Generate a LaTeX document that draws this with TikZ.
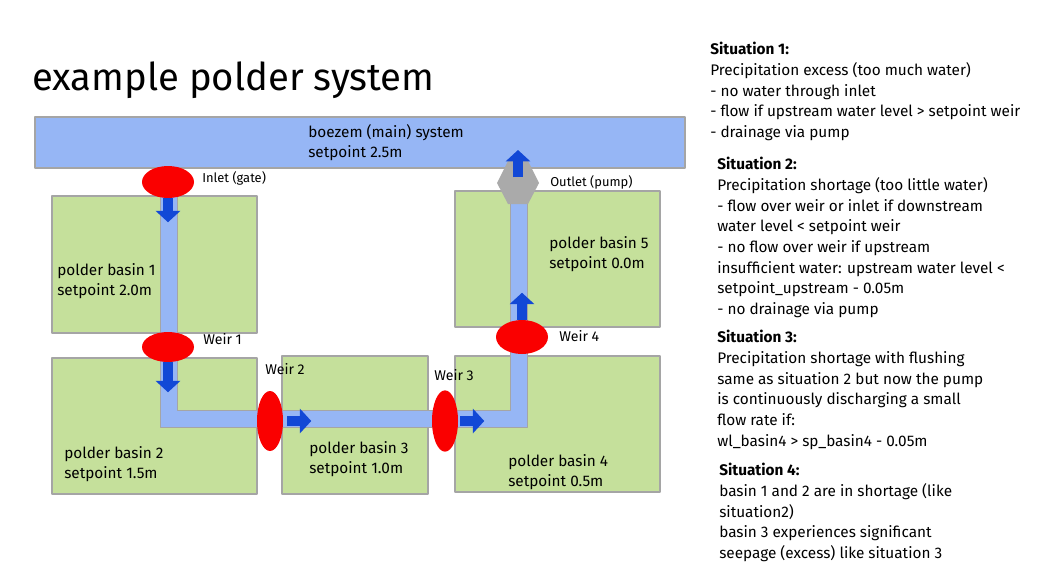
\documentclass[tikz,border=0pt]{standalone}
\usepackage{fontspec}
\setmainfont{Fira Sans}
\usepackage{tikz}
\usetikzlibrary{arrows.meta, positioning, shapes, calc, shapes.geometric}
\definecolor{boezemblue}{RGB}{150, 182, 245}
\definecolor{basingreen}{RGB}{197, 224, 155}
\definecolor{weirred}{RGB}{250, 0, 0}
\definecolor{flowblue}{RGB}{18, 72, 214}
\definecolor{pumpgray}{RGB}{170, 170, 170}
\definecolor{edgegray}{RGB}{165, 165, 165}
\tikzset{every node/.style={font=\fontsize{11.5}{15.5}\selectfont, inner sep=0pt}, every path/.style={line join=round}}
\tikzset{
    basin/.style={draw=edgegray, fill=basingreen, line width=0.8pt},
    weir/.style={ellipse, fill=weirred},
    flow/.style={flowblue, line width=7.5pt, -{Triangle[length=8.5pt, width=18pt]}},
    txt/.style={anchor=north west, align=left},
    lbl/.style={anchor=north west, font=\fontsize{9.7}{12}\selectfont}
}

\begin{document}
\begin{tikzpicture}[x=0.75pt, y=-0.75pt]
    \useasboundingbox (0,0) rectangle (1037,582);

    % title
    \node [anchor=north west, font=\fontsize{28.7}{30}\selectfont] (title) at (32,62) {example polder system};

    % boezem
    \node [basin, fill=boezemblue, minimum width=487.5pt, minimum height=38.25pt] (boezem) at (360,142.5) {};
    \node [txt] (boezemtext) at (308,124) {boezem (main) system\\setpoint 2.5m};

    % polder basins
    \node [basin, minimum width=153.75pt, minimum height=102.75pt] (basin1) at (154.5,264.5) {};
    \node [basin, minimum width=153.75pt, minimum height=102pt] (basin2) at (154.5,426) {};
    \node [basin, minimum width=109.5pt, minimum height=103.5pt] (basin3) at (355,425) {};
    \node [basin, minimum width=153.75pt, minimum height=102pt] (basin4) at (557.5,424) {};
    \node [basin, minimum width=153.75pt, minimum height=102pt] (basin5) at (557.5,259) {};

    % channels
    \draw [draw=edgegray, fill=boezemblue, line width=0.6pt]
        (160,196) -- (177,196) -- (177,410) -- (510,410) -- (510,191) -- (527,191)
        -- (527,427) -- (160,427) -- cycle;

    % structures
    \node [weir, minimum width=39pt, minimum height=24pt] (inlet) at (168,182) {};
    \node [weir, minimum width=39pt, minimum height=22.5pt] (weir1) at (168,347) {};
    \node [weir, minimum width=19.5pt, minimum height=45pt] (weir2) at (270,421) {};
    \node [weir, minimum width=19.5pt, minimum height=46pt] (weir3) at (445,421) {};
    \node [weir, minimum width=39pt, minimum height=25.5pt] (weir4) at (522,337) {};
    \coordinate (pump) at (518,183);
    \fill [pumpgray] ($(pump)+(-21,0)$) -- ($(pump)+(-10,-22)$) -- ($(pump)+(10,-22)$)
        -- ($(pump)+(21,0)$) -- ($(pump)+(10,21)$) -- ($(pump)+(-10,21)$) -- cycle;

    % flow direction
    \draw [flow] (inlet.south) -- ++(0,24);
    \draw [flow] (weir1.south) -- ++(0,30);
    \draw [flow] ($(weir2.east)+(4,0)$) -- ++(24,0);
    \draw [flow] ($(weir3.east)+(2,0)$) -- ++(24,0);
    \draw [flow] (weir4.north) -- ++(0,-27);
    \draw [flow] ($(pump)+(0,-6)$) -- ++(0,-27);

    % labels
    \node [lbl] (inletlbl) at (202,171) {Inlet (gate)};
    \node [lbl] (outletlbl) at (550,175) {Outlet (pump)};
    \node [lbl, font=\fontsize{10.6}{12}\selectfont] (weir1lbl) at (203,333) {Weir 1};
    \node [lbl, font=\fontsize{10.6}{12}\selectfont] (weir2lbl) at (265,363) {Weir 2};
    \node [lbl, font=\fontsize{10.6}{12}\selectfont] (weir3lbl) at (434,369) {Weir 3};
    \node [lbl, font=\fontsize{10.6}{12}\selectfont] (weir4lbl) at (559,330) {Weir 4};

    \node [txt] (basin1text) at (57,263) {polder basin 1\\setpoint 2.0m};
    \node [txt] (basin2text) at (64,446) {polder basin 2\\setpoint 1.5m};
    \node [txt] (basin3text) at (309,441) {polder basin 3\\setpoint 1.0m};
    \node [txt] (basin4text) at (508,454) {polder basin 4\\setpoint 0.5m};
    \node [txt] (basin5text) at (549,236) {polder basin 5\\setpoint 0.0m};

    % situations
    \node [txt] (sit1) at (710,42) {\textbf{Situation 1:}\\
        Precipitation excess (too much water)\\
        - no water through inlet\\
        - flow if upstream water level > setpoint weir\\
        - drainage via pump};
    \node [txt] (sit2) at (717,157) {\textbf{Situation 2:}\\
        Precipitation shortage (too little water)\\
        - flow over weir or inlet if downstream\\
        water level < setpoint weir\\
        - no flow over weir if upstream\\
        insufficient water: upstream water level <\\
        setpoint\_upstream - 0.05m\\
        - no drainage via pump};
    \node [txt] (sit3) at (717,330) {\textbf{Situation 3:}\\
        Precipitation shortage with flushing\\
        same as situation 2 but now the pump\\
        is continuously discharging a small\\
        flow rate if:\\
        wl\_basin4 > sp\_basin4 - 0.05m};
    \node [txt] (sit4) at (719,463) {\textbf{Situation 4:}\\
        basin 1 and 2 are in shortage (like\\
        situation2)\\
        basin 3 experiences significant\\
        seepage (excess) like situation 3};
\end{tikzpicture}
\end{document}
